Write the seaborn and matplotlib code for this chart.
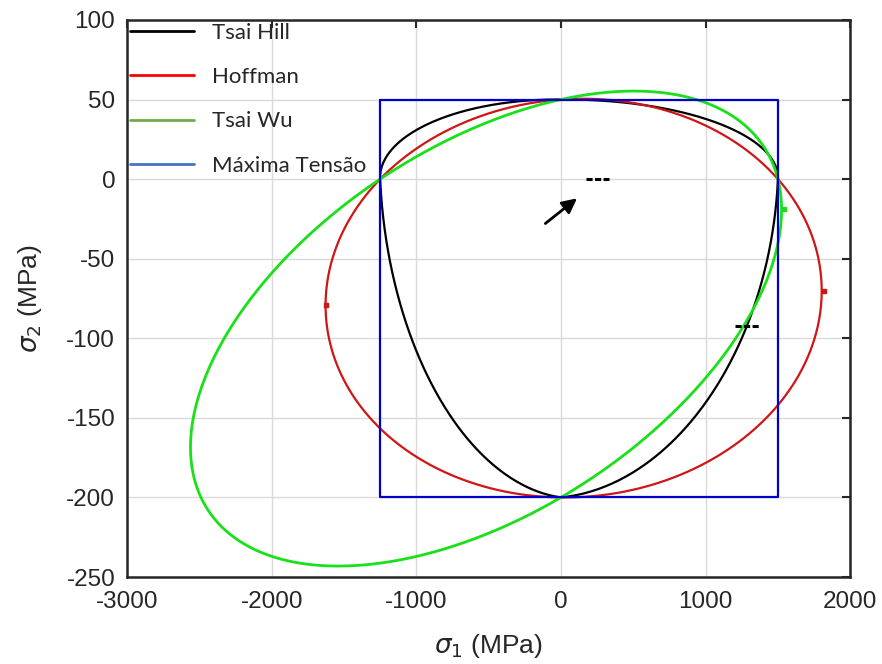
import numpy as np
import pandas as pd
import matplotlib.pyplot as plt
import seaborn as sns
from matplotlib.lines import Line2D

# lamina strengths (MPa) read from the envelope intercepts
Xt = 1500
Xc = 1250
Yt = 50
Yc = 200

criteria = ['Tsai Hill', 'Hoffman', 'Tsai Wu', 'Máxima Tensão']
plot_colors = ['#000000', '#d01515', '#19e019', '#0000cc']
legend_colors = ['#000000', '#ff0000', '#70ad47', '#4472c4']

# little data-tip marks seen on the curves
tip_red_x = [-1625, 1820]
tip_red_y = [-79, -70]
tip_green_x = [1544]
tip_green_y = [-19]
dash_x = [[170, 330], [1205, 1378]]
dash_y = [[0, 0], [-92, -92]]
arrow_from = (-123, -29)
arrow_to = (126, -11)


def envelope(name, n=721):
    t = np.linspace(0, 2 * np.pi, n)
    u1 = np.cos(t) * Xt
    u2 = np.sin(t) * 100
    F1 = 1 / Xt - 1 / Xc
    F2 = 1 / Yt - 1 / Yc
    F11 = 1 / (Xt * Xc)
    F22 = 1 / (Yt * Yc)
    if name == 'Tsai Hill':
        # strengths picked per quadrant
        X = np.where(u1 >= 0, Xt, Xc)
        Y = np.where(u2 >= 0, Yt, Yc)
        A = u1**2 / X**2 - np.abs(u1) * u2 / X**2 + u2**2 / Y**2
        B = 0 * u1
    elif name == 'Hoffman':
        A = F11 * u1**2 - F11 * u1 * u2 + F22 * u2**2
        B = F1 * u1 + F2 * u2
    else:
        F12 = -0.5 * np.sqrt(F11 * F22)
        A = F11 * u1**2 + 2 * F12 * u1 * u2 + F22 * u2**2
        B = F1 * u1 + F2 * u2
    r = (-B + np.sqrt(B**2 + 4 * A)) / (2 * A)
    return r * u1, r * u2


frames = []
for name in criteria[:3]:
    s1, s2 = envelope(name)
    frames.append(pd.DataFrame({'s1': s1, 's2': s2, 'crit': name}))
box = pd.DataFrame({'s1': [-Xc, Xt, Xt, -Xc, -Xc],
                    's2': [Yt, Yt, -Yc, -Yc, Yt],
                    'crit': 'Máxima Tensão'})
frames.append(box)
df = pd.concat(frames, ignore_index=True)

sns.set_style('whitegrid')
plt.rcParams['font.family'] = ['Liberation Sans', 'DejaVu Sans']
plt.rcParams['mathtext.fontset'] = 'dejavusans'
plt.rcParams['axes.unicode_minus'] = False

fig = plt.figure(figsize=(8.82, 6.64), dpi=100)
ax = fig.add_axes([0.144, 0.131, 0.820, 0.839])

sns.lineplot(data=df, x='s1', y='s2', hue='crit', hue_order=criteria,
             palette=plot_colors, sort=False, estimator=None, units='crit',
             linewidth=1.6, legend=False, ax=ax)
ax.lines[2].set_linewidth(2.0)

ax.plot(tip_red_x, tip_red_y, ls='none', marker='s', ms=2.5, color='#d01515')
ax.plot(tip_green_x, tip_green_y, ls='none', marker='s', ms=2.5, color='#19e019')
for xs, ys in zip(dash_x, dash_y):
    ax.plot(xs, ys, color='k', lw=2.2, ls=(0, (2.0, 0.8)))
ax.annotate('', xy=arrow_to, xytext=arrow_from,
            arrowprops=dict(arrowstyle='-|>', color='k', lw=2, mutation_scale=22))

ax.set_xlim(-3000, 2000)
ax.set_ylim(-250, 100)
ax.set_xticks(np.arange(-3000, 2001, 1000))
ax.set_yticks(np.arange(-250, 101, 50))
ax.grid(True, color='#dadada', lw=1)
ax.tick_params(direction='in', length=6, width=1.5, top=True, right=True,
               labelsize=17.5, labelcolor='#262626', color='#262626')
ax.tick_params(axis='x', pad=10)
ax.tick_params(axis='y', pad=8.5)
for sp in ax.spines.values():
    sp.set_color('#262626')
    sp.set_linewidth(1.8)
ax.set_xlabel(r'$\sigma_1$ (MPa)', fontsize=19, color='#262626', labelpad=14)
ax.set_ylabel(r'$\sigma_2$ (MPa)', fontsize=19, color='#262626', labelpad=16)

handles = [Line2D([], [], color=c, lw=2) for c in legend_colors]
ax.legend(handles, criteria, loc='upper left', frameon=False,
          prop={'family': 'Lato', 'size': 16}, handlelength=2.9,
          handletextpad=0.8, labelspacing=1.1, borderpad=0.12,
          borderaxespad=0.0)

plt.savefig('out.png', dpi=100)
